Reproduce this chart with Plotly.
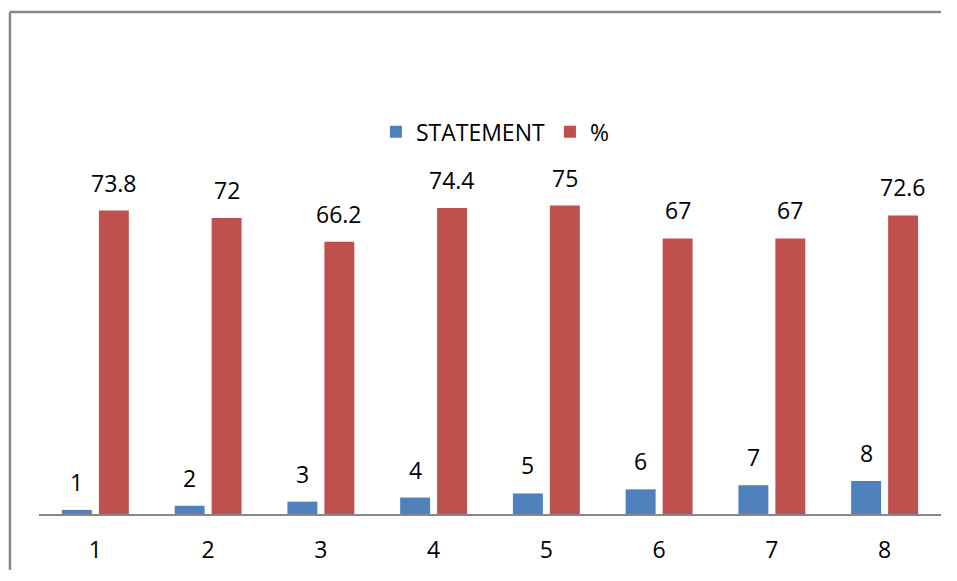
import plotly.graph_objects as go

categories = ["1", "2", "3", "4", "5", "6", "7", "8"]
statement = [1, 2, 3, 4, 5, 6, 7, 8]
percent = [73.8, 72, 66.2, 74.4, 75, 67, 67, 72.6]

BLUE = "#4F81BD"
RED = "#C0504D"
FONT = "Open Sans"
FS = 23

fig = go.Figure()
fig.add_trace(go.Bar(name="STATEMENT", x=categories, y=statement, marker=dict(color=BLUE, line=dict(width=0))))
fig.add_trace(go.Bar(name="%", x=categories, y=percent, marker=dict(color=RED, line=dict(width=0))))

annotations = []
for i, v in enumerate(statement):
    annotations.append(dict(x=i, y=v, xref="x", yref="y", text=str(v), showarrow=False,
                            xshift=-18.5, yshift=10, yanchor="bottom",
                            font=dict(family=FONT, size=FS, color="black")))
for i, v in enumerate(percent):
    annotations.append(dict(x=i, y=v, xref="x", yref="y", text=str(v), showarrow=False,
                            xshift=18.5, yshift=10, yanchor="bottom",
                            font=dict(family=FONT, size=FS, color="black")))

border = dict(color="#888888", width=2.5)
fig.update_layout(
    width=941, height=565,
    margin=dict(l=31, r=8, t=177, b=55),
    paper_bgcolor="white", plot_bgcolor="white",
    barmode="group", bargap=0.344, bargroupgap=0.19,
    font=dict(family=FONT, size=FS, color="black"),
    showlegend=True,
    legend=dict(orientation="h", x=0.506, xanchor="center", y=1.162, yanchor="middle",
                font=dict(family=FONT, size=FS), itemsizing="constant"),
    annotations=annotations,
    shapes=[
        dict(type="line", xref="paper", yref="paper", x0=-0.0322, x1=1.0, y0=1.5255, y1=1.5255, line=border),
        dict(type="line", xref="paper", yref="paper", x0=-0.0322, x1=-0.0322, y0=-0.17, y1=1.5255, line=border),
    ],
    xaxis=dict(type="category", range=[-0.5, 7.5], showline=True, linecolor="#888888", linewidth=2,
               showgrid=False, ticks="", ticklabelstandoff=14,
               tickfont=dict(family=FONT, size=FS, color="black")),
    yaxis=dict(range=[0, 80], visible=False, showgrid=False, zeroline=False),
)

fig.write_html("out.html")
